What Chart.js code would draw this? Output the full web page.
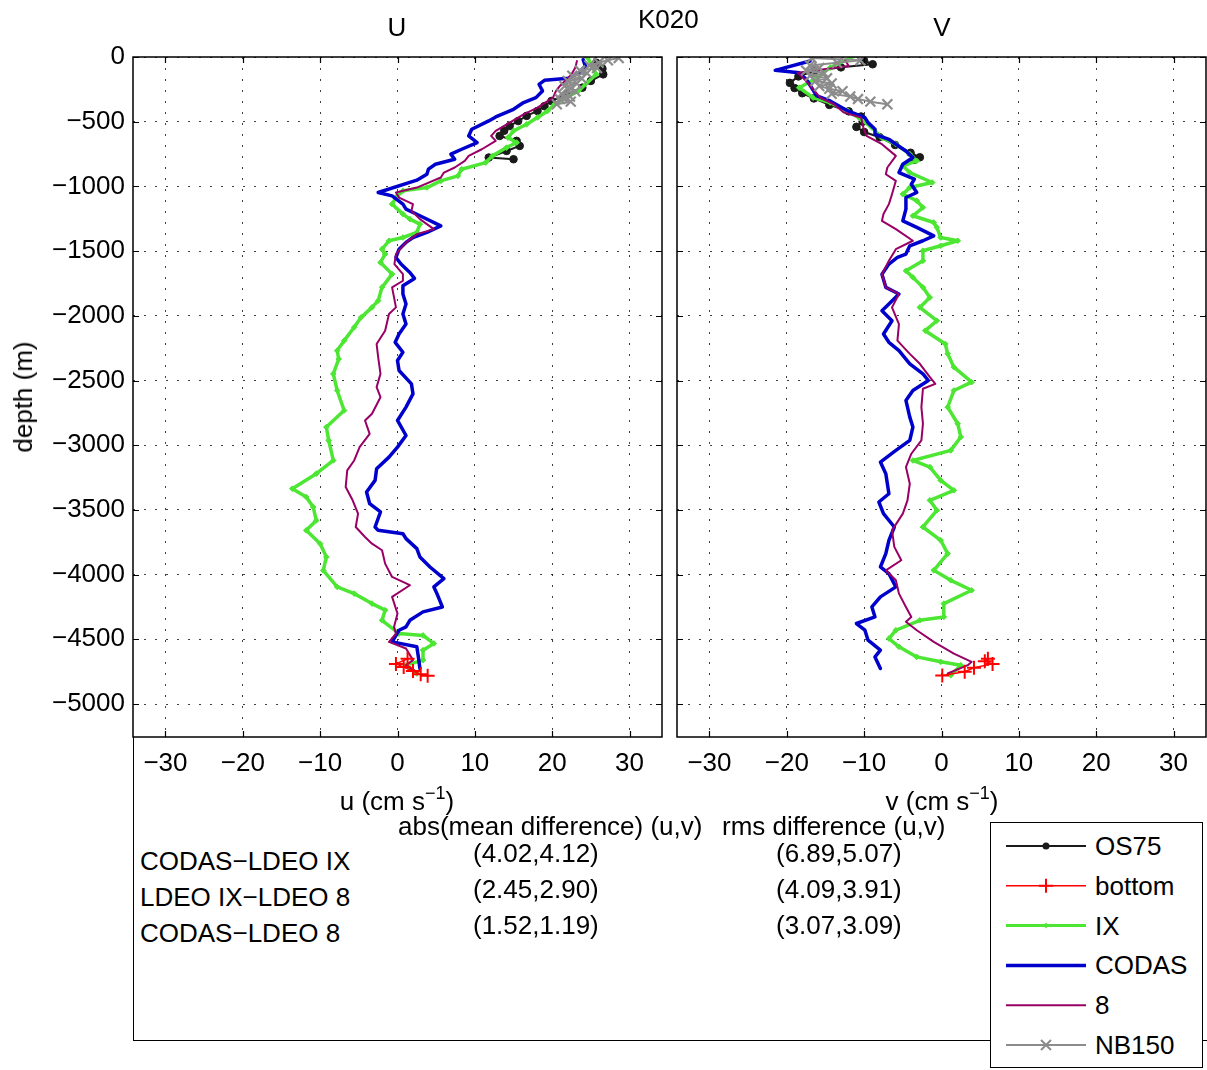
<!DOCTYPE html>
<html><head><meta charset="utf-8">
<script src="https://cdn.jsdelivr.net/npm/chart.js@4.4.0/dist/chart.umd.min.js"></script>
<style>
html,body{margin:0;padding:0;background:#fff;overflow:hidden;}
#wrap{position:relative;width:1207px;height:1070px;font-family:"Liberation Sans",Arial,sans-serif;color:#000;background:#fff;}
.t{position:absolute;font-size:26px;line-height:1;white-space:nowrap;transform:translateY(-50%);}
.c{transform:translate(-50%,-50%);}
canvas{position:absolute;}
sup{font-size:18px;position:relative;top:-11px;vertical-align:baseline;line-height:0;}
</style></head><body>
<div id="wrap">
  <div id="box" style="position:absolute;left:133px;top:737px;width:1074px;height:304px;border-left:1px solid #000;border-bottom:1px solid #000;box-sizing:border-box;"></div>
  <canvas id="cU" width="670" height="790" style="left:0;top:0;width:670px;height:790px"></canvas>
  <canvas id="cV" width="537" height="790" style="left:670px;top:0;width:537px;height:790px"></canvas>
  <div class="t c" style="left:397px;top:27px">U</div>
  <div class="t c" style="left:942px;top:27px">V</div>
  <div class="t" style="left:638px;top:19px">K020</div>
  <div class="t" style="left:23px;top:397px;transform:translate(-50%,-50%) rotate(-90deg)">depth (m)</div>
  <div class="t c" style="left:397px;top:801px">u (cm s<sup>−1</sup>)</div>
  <div class="t c" style="left:942px;top:801px">v (cm s<sup>−1</sup>)</div>
  <div id="stats"></div>
  <div id="legend" style="position:absolute;left:990px;top:822px;width:213px;height:246px;border:1px solid #000;box-sizing:border-box;background:#fff;"></div>
</div>
<script>
// ---------------- axes ----------------
const X_TICKS = [-30, -20, -10, 0, 10, 20, 30];
const Y_TICKS = [0, -500, -1000, -1500, -2000, -2500, -3000, -3500, -4000, -4500, -5000];
const X_MIN = -34.2, X_MAX = 34.2, Y_MIN = -5255, Y_MAX = 0;

// ---------------- text table ----------------
const STAT_HEADERS = ['abs(mean difference) (u,v)', 'rms difference (u,v)'];
const STAT_ROWS = ['CODAS\u2212LDEO IX', 'LDEO IX\u2212LDEO 8', 'CODAS\u2212LDEO 8'];
const STAT_MEAN = ['(4.02,4.12)', '(2.45,2.90)', '(1.52,1.19)'];
const STAT_RMS = ['(6.89,5.07)', '(4.09,3.91)', '(3.07,3.09)'];

// ---------------- U panel data (depth m, u cm/s) ----------------
const U_OS75_DEPTH = [44, 90, 134, 185, 237, 290, 340, 380, 417, 455, 495, 533, 570, 610, 648, 687, 726, 777, 790];
const U_OS75 = [25.7, 26.5, 26.6, 25.0, 23.9, 21.8, 19.9, 19.0, 18.1, 16.7, 15.6, 14.5, 13.8, 13.2, 15.4, 15.8, 14.1, 11.8, 15.0];

const U_NB150_DEPTH = [8, 25, 45, 65, 85, 105, 125, 145, 165, 185, 205, 225, 245, 265, 285, 305, 325, 345, 365];
const U_NB150 = [28.6, 27.2, 26.0, 24.8, 25.8, 23.6, 24.5, 22.6, 23.8, 22.0, 23.2, 21.6, 22.4, 23.0, 21.2, 22.3, 21.0, 22.4, 20.6];

const U_BOTTOM_DEPTH = [4650, 4690, 4715, 4745, 4770, 4782];
const U_BOTTOM = [1.3, -0.2, 0.8, 2.0, 3.0, 3.9];

const U_IX_DEPTH = [5, 134, 262, 365, 417, 468, 520, 571, 623, 661, 700, 764, 816, 867, 919, 957, 1009, 1034, 1086, 1137, 1214, 1253, 1292, 1356, 1395, 1420, 1485, 1523, 1588, 1678, 1780, 1883, 1935, 2012, 2089, 2192, 2269, 2334, 2449, 2577, 2732, 2860, 2963, 3118, 3220, 3336, 3400, 3478, 3581, 3658, 3761, 3864, 3967, 4095, 4147, 4224, 4275, 4353, 4456, 4470, 4533, 4584, 4661, 4700, 4764];
const U_IX = [24.6, 25.7, 23.4, 20.3, 19.4, 18.1, 16.7, 15.0, 14.3, 15.4, 14.1, 12.3, 11.4, 8.3, 7.8, 5.6, 3.8, 0.7, -0.2, -0.7, 0.7, 1.6, 2.9, 2.5, 0.7, -1.1, -2.0, -1.6, -2.2, -0.7, -2.0, -2.5, -3.3, -4.7, -5.6, -6.9, -7.8, -7.6, -8.3, -7.8, -6.9, -9.2, -8.9, -8.3, -10.5, -13.6, -11.8, -10.9, -10.5, -11.8, -10.0, -9.2, -9.6, -7.8, -5.6, -3.3, -1.6, -2.0, 0.2, 3.3, 4.7, 3.3, 3.3, 1.1, 2.5];

const U_CODAS_DEPTH = [20, 70, 120, 165, 180, 211, 262, 314, 352, 404, 463, 494, 558, 610, 661, 713, 751, 790, 829, 867, 906, 952, 1047, 1073, 1137, 1176, 1227, 1305, 1356, 1395, 1433, 1485, 1549, 1600, 1665, 1711, 1768, 1832, 1909, 1986, 2064, 2141, 2205, 2282, 2346, 2423, 2526, 2603, 2706, 2809, 2925, 3015, 3092, 3182, 3272, 3362, 3452, 3516, 3632, 3658, 3684, 3722, 3799, 3864, 3941, 4031, 4095, 4147, 4250, 4288, 4353, 4404, 4430, 4520, 4558, 4636, 4726];
const U_CODAS = [24.0, 24.3, 23.5, 22.1, 19.0, 18.3, 18.75, 17.9, 16.3, 15.0, 12.7, 11.8, 9.6, 9.2, 10.3, 8.3, 6.9, 7.4, 4.9, 4.0, 3.8, 2.5, -2.5, -0.7, 0.7, 1.1, 2.9, 5.6, 3.8, 2.0, 1.1, 0.2, -0.2, 0.45, 1.6, 2.2, 0.7, 0.7, 1.1, 0.7, 1.1, 0.2, -0.3, 0.7, 0.0, 0.2, 1.8, 2.0, 1.1, 0.0, 1.1, 0.0, -1.1, -2.7, -2.9, -4.0, -3.6, -2.2, -2.9, -2.5, 0.7, 1.1, 2.5, 2.9, 4.2, 6.0, 4.7, 5.1, 5.8, 3.3, 1.6, 1.1, 0.2, -0.7, 2.5, 2.7, 2.9];

const U_L8_DEPTH = [31, 82, 134, 224, 262, 314, 391, 443, 507, 571, 610, 648, 713, 764, 803, 854, 893, 931, 1009, 1047, 1086, 1137, 1189, 1253, 1330, 1369, 1433, 1523, 1600, 1678, 1729, 1780, 1935, 1986, 2115, 2218, 2320, 2449, 2551, 2629, 2757, 2809, 2912, 3015, 3118, 3195, 3323, 3426, 3529, 3632, 3709, 3761, 3812, 3915, 4018, 4082, 4172, 4301, 4404, 4456, 4520, 4571, 4661, 4700, 4751];
const U_L8 = [23.2, 23.0, 22.5, 21.0, 20.5, 20.1, 18.1, 16.3, 14.5, 12.7, 12.1, 12.7, 10.9, 9.2, 8.7, 7.4, 6.0, 5.6, 2.5, -0.2, 0.2, 2.0, 1.8, 2.9, 4.7, 2.5, 1.1, -0.2, -0.4, 0.7, 0.7, -0.7, -0.2, -1.1, -1.6, -2.7, -2.5, -2.2, -2.7, -2.2, -3.3, -4.2, -3.6, -4.9, -5.6, -6.5, -6.7, -5.8, -5.1, -5.4, -4.2, -3.3, -2.0, -1.6, -0.7, 1.6, -0.7, 0.0, -0.45, -0.2, -1.1, 1.1, 2.0, 1.1, 2.5];

// ---------------- V panel data (depth m, v cm/s) ----------------
const V_OS75_DEPTH = [30, 56, 80, 110, 150, 200, 240, 280, 320, 370, 420, 460, 500, 540, 580, 620, 680, 740, 775, 795];
const V_OS75 = [-10.0, -8.9, -13.0, -16.5, -18.5, -19.6, -19.0, -18.0, -16.5, -14.5, -12.0, -10.4, -10.2, -11.0, -10.0, -8.0, -6.0, -4.0, -2.8, -3.6];

const V_NB150_DEPTH = [8, 25, 45, 65, 85, 105, 125, 145, 165, 185, 205, 225, 245, 265, 285, 305, 325, 345, 365];
const V_NB150 = [-16.8, -10.5, -13.5, -17.0, -15.8, -17.5, -15.2, -17.0, -14.8, -16.3, -14.2, -15.8, -14.5, -12.8, -14.2, -11.8, -10.8, -9.2, -7.0];

const V_BOTTOM_DEPTH = [4650, 4670, 4690, 4720, 4750, 4780];
const V_BOTTOM = [6.0, 5.6, 6.6, 4.2, 3.0, 0.1];

const V_IX_DEPTH = [5, 82, 160, 237, 314, 352, 417, 481, 545, 623, 674, 751, 803, 841, 893, 970, 1009, 1060, 1111, 1163, 1227, 1279, 1317, 1395, 1420, 1459, 1497, 1575, 1652, 1703, 1780, 1858, 1935, 2038, 2115, 2218, 2294, 2397, 2513, 2577, 2706, 2834, 2937, 3040, 3118, 3169, 3272, 3349, 3426, 3503, 3632, 3735, 3838, 3967, 4044, 4121, 4224, 4327, 4353, 4430, 4494, 4558, 4636, 4674, 4700, 4777];
const V_IX = [-11.7, -14.4, -16.1, -18.4, -16.6, -14.4, -12.1, -10.4, -9.0, -7.7, -5.9, -4.1, -3.2, -5.0, -4.1, -1.2, -4.1, -5.0, -3.2, -2.4, -3.7, -1.0, -0.6, -0.1, 2.1, -0.1, -2.4, -2.4, -4.6, -3.7, -2.4, -1.5, -2.8, -0.6, -2.1, 0.5, 0.8, 1.6, 3.9, 1.6, 0.8, 2.1, 2.5, 1.2, -3.7, -1.5, -0.1, 1.6, -1.5, -0.6, -2.4, -0.1, 0.8, -1.0, 1.2, 3.9, 0.3, 0.3, -2.8, -5.9, -6.8, -5.5, -3.2, -0.1, 2.5, 1.2];

const V_CODAS_DEPTH = [31, 103, 121, 172, 301, 340, 417, 468, 507, 558, 597, 636, 674, 726, 777, 829, 893, 944, 983, 1047, 1086, 1176, 1266, 1317, 1382, 1420, 1459, 1523, 1549, 1600, 1678, 1780, 1832, 1909, 1961, 2038, 2141, 2205, 2269, 2371, 2449, 2500, 2577, 2654, 2783, 2860, 2963, 3040, 3130, 3220, 3375, 3439, 3529, 3632, 3735, 3838, 3941, 3992, 4095, 4172, 4250, 4327, 4378, 4430, 4507, 4584, 4636, 4726];
const V_CODAS = [-17.0, -21.5, -18.4, -17.5, -16.1, -14.4, -12.1, -9.9, -9.5, -8.6, -8.6, -6.8, -5.9, -4.6, -3.7, -5.0, -5.5, -3.5, -3.9, -3.2, -4.6, -4.6, -5.0, -3.2, -1.0, -2.4, -4.1, -4.6, -5.7, -6.8, -7.7, -7.2, -5.5, -6.8, -7.7, -6.4, -7.5, -6.8, -5.5, -4.1, -2.4, -1.7, -3.7, -4.6, -4.1, -3.7, -4.1, -5.9, -7.9, -7.2, -6.8, -8.1, -7.5, -6.1, -6.8, -7.2, -7.9, -6.8, -5.9, -7.9, -9.0, -8.6, -11.0, -9.9, -9.5, -7.9, -8.6, -7.9];

const V_L8_DEPTH = [20, 70, 121, 185, 314, 365, 430, 468, 545, 610, 674, 764, 854, 906, 957, 1060, 1137, 1214, 1266, 1330, 1420, 1485, 1575, 1678, 1780, 1832, 1935, 2064, 2192, 2294, 2371, 2474, 2526, 2564, 2706, 2834, 2963, 3066, 3169, 3298, 3426, 3529, 3658, 3786, 3889, 3967, 4044, 4147, 4250, 4327, 4365, 4430, 4520, 4610, 4674, 4700, 4764];
const V_L8 = [-12.5, -12.0, -18.6, -17.5, -15.7, -13.9, -12.6, -10.4, -10.1, -9.7, -7.7, -5.9, -7.0, -7.2, -5.9, -6.4, -6.8, -7.5, -7.7, -5.9, -3.7, -5.9, -6.8, -7.7, -7.2, -5.5, -6.4, -5.5, -5.7, -4.1, -2.8, -1.5, -0.8, -2.4, -2.6, -2.4, -2.6, -3.9, -4.6, -4.1, -4.4, -5.0, -6.4, -6.1, -5.2, -7.2, -5.9, -5.5, -4.6, -3.9, -4.6, -3.2, -1.0, 1.6, 3.9, 3.4, 0.8];

// ---------------- series ----------------
const LEGEND_ORDER = ['OS75', 'bottom', 'IX', 'CODAS', '8', 'NB150'];
const DRAW_ORDER = ['NB150', 'bottom', '8', 'CODAS', 'IX', 'OS75']; // index 0 drawn on top
const STYLE = {
  OS75:   {color: '#1a1a1a', width: 2,   marker: 'circle',   r: 3.8, pbw: 1},
  bottom: {color: '#ff0000', width: 1.5, marker: 'cross',    r: 7,   pbw: 2},
  IX:     {color: '#4ce633', width: 3.5, marker: 'rectRot',  r: 2.8, pbw: 1},
  CODAS:  {color: '#0000cc', width: 3.5, marker: null,       r: 0,   pbw: 0},
  '8':    {color: '#990066', width: 2,   marker: null,       r: 0,   pbw: 0},
  NB150:  {color: '#8c8c8c', width: 2,   marker: 'crossRot', r: 7,   pbw: 2.2}
};
const PANEL_U = {
  OS75: [U_OS75_DEPTH, U_OS75], bottom: [U_BOTTOM_DEPTH, U_BOTTOM], IX: [U_IX_DEPTH, U_IX],
  CODAS: [U_CODAS_DEPTH, U_CODAS], '8': [U_L8_DEPTH, U_L8], NB150: [U_NB150_DEPTH, U_NB150]
};
const PANEL_V = {
  OS75: [V_OS75_DEPTH, V_OS75], bottom: [V_BOTTOM_DEPTH, V_BOTTOM], IX: [V_IX_DEPTH, V_IX],
  CODAS: [V_CODAS_DEPTH, V_CODAS], '8': [V_L8_DEPTH, V_L8], NB150: [V_NB150_DEPTH, V_NB150]
};

const FONT = '"Liberation Sans", Arial, sans-serif';
const fmt = v => (v < 0 ? '\u2212' + Math.abs(v) : String(v));

const framePlugin = {
  id: 'frame',
  afterDatasetsDraw(chart) {
    const {ctx, chartArea: a, scales: {x, y}} = chart;
    ctx.save();
    ctx.strokeStyle = '#000';
    ctx.lineWidth = 1.5;
    ctx.strokeRect(a.left, a.top, a.right - a.left, a.bottom - a.top);
    ctx.lineWidth = 1.2;
    ctx.beginPath();
    x.ticks.forEach(t => {
      const px = Math.round(x.getPixelForValue(t.value)) + 0.5;
      ctx.moveTo(px, a.bottom); ctx.lineTo(px, a.bottom - 6);
      ctx.moveTo(px, a.top); ctx.lineTo(px, a.top + 6);
    });
    y.ticks.forEach(t => {
      const py = Math.round(y.getPixelForValue(t.value)) + 0.5;
      ctx.moveTo(a.left, py); ctx.lineTo(a.left + 6, py);
      ctx.moveTo(a.right, py); ctx.lineTo(a.right - 6, py);
    });
    ctx.stroke();
    ctx.restore();
  }
};

function makeChart(id, panel, leftW, padRight, showY) {
  const datasets = DRAW_ORDER.map(name => {
    const s = STYLE[name];
    const [dep, val] = panel[name];
    return {
      label: name,
      data: dep.map((d, i) => ({x: val[i], y: -d})),
      showLine: true,
      borderColor: s.color,
      backgroundColor: s.color,
      borderWidth: s.width,
      pointRadius: s.r,
      pointStyle: s.marker || 'circle',
      pointBorderWidth: s.pbw,
      pointBackgroundColor: s.color,
      pointBorderColor: s.color,
      fill: false,
      tension: 0,
      borderJoinStyle: 'round',
      borderCapStyle: 'round'
    };
  });
  const gridCfg = {display: true, drawTicks: false, color: 'rgba(0,0,0,0.75)', lineWidth: 1};
  const borderCfg = {display: false, dash: [2, 9]};
  return new Chart(document.getElementById(id), {
    type: 'scatter',
    data: {datasets},
    options: {
      responsive: false, animation: false, devicePixelRatio: 1, events: [],
      layout: {autoPadding: false, padding: {top: 57, right: padRight, bottom: 3, left: 0}},
      plugins: {legend: {display: false}, tooltip: {enabled: false}, title: {display: false}},
      scales: {
        x: {
          type: 'linear', position: 'bottom', min: X_MIN, max: X_MAX,
          afterBuildTicks: s => { s.ticks = X_TICKS.map(v => ({value: v})); },
          afterFit: s => { s.height = 50; s.paddingLeft = 0; s.paddingRight = 0; },
          ticks: {autoSkip: false, maxRotation: 0, padding: 11, color: '#000', font: {family: FONT, size: 26}, callback: fmt},
          grid: gridCfg, border: borderCfg
        },
        y: {
          type: 'linear', position: 'left', min: Y_MIN, max: Y_MAX,
          afterBuildTicks: s => { s.ticks = Y_TICKS.map(v => ({value: v})); },
          afterFit: s => { s.width = leftW; s.paddingTop = 0; s.paddingBottom = 0; },
          ticks: {display: showY, autoSkip: false, padding: 8, color: '#000', font: {family: FONT, size: 26}, callback: fmt},
          grid: gridCfg, border: borderCfg
        }
      }
    },
    plugins: [framePlugin]
  });
}

makeChart('cU', PANEL_U, 133, 8, true);
makeChart('cV', PANEL_V, 7, 1, false);

// ---------------- statistics text ----------------
(function () {
  const st = document.getElementById('stats');
  const add = (txt, left, top) => {
    const d = document.createElement('div');
    d.className = 't';
    d.style.left = left + 'px';
    d.style.top = top + 'px';
    d.textContent = txt;
    st.appendChild(d);
  };
  add(STAT_HEADERS[0], 398, 826);
  add(STAT_HEADERS[1], 722, 826);
  STAT_ROWS.forEach((r, i) => add(r, 140, 861 + 36 * i));
  STAT_MEAN.forEach((r, i) => add(r, 473, 853 + 36 * i));
  STAT_RMS.forEach((r, i) => add(r, 776, 853 + 36 * i));
})();

// ---------------- legend ----------------
(function () {
  const lg = document.getElementById('legend');
  const NS = 'http://www.w3.org/2000/svg';
  const svg = document.createElementNS(NS, 'svg');
  svg.setAttribute('width', '211'); svg.setAttribute('height', '244');
  svg.style.position = 'absolute'; svg.style.left = '0'; svg.style.top = '0';
  lg.appendChild(svg);
  LEGEND_ORDER.forEach((name, i) => {
    const s = STYLE[name];
    const cy = 23 + i * 39.8;
    const ln = document.createElementNS(NS, 'line');
    ln.setAttribute('x1', 15); ln.setAttribute('x2', 95);
    ln.setAttribute('y1', cy); ln.setAttribute('y2', cy);
    ln.setAttribute('stroke', s.color); ln.setAttribute('stroke-width', name === 'IX' ? 3 : s.width);
    svg.appendChild(ln);
    const mx = 55;
    if (s.marker === 'circle') {
      const c = document.createElementNS(NS, 'circle');
      c.setAttribute('cx', mx); c.setAttribute('cy', cy); c.setAttribute('r', 3.5);
      c.setAttribute('fill', s.color);
      svg.appendChild(c);
    } else if (s.marker === 'rectRot') {
      const p = document.createElementNS(NS, 'path');
      p.setAttribute('d', `M${mx} ${cy - 3} L${mx + 2.5} ${cy} L${mx} ${cy + 3} L${mx - 2.5} ${cy} Z`);
      p.setAttribute('fill', s.color);
      svg.appendChild(p);
    } else if (s.marker === 'cross') {
      const p = document.createElementNS(NS, 'path');
      p.setAttribute('d', `M${mx - 7} ${cy} H${mx + 7} M${mx} ${cy - 7} V${cy + 7}`);
      p.setAttribute('stroke', s.color); p.setAttribute('stroke-width', 2); p.setAttribute('fill', 'none');
      svg.appendChild(p);
    } else if (s.marker === 'crossRot') {
      const k = 5;
      const p = document.createElementNS(NS, 'path');
      p.setAttribute('d', `M${mx - k} ${cy - k} L${mx + k} ${cy + k} M${mx - k} ${cy + k} L${mx + k} ${cy - k}`);
      p.setAttribute('stroke', s.color); p.setAttribute('stroke-width', 2); p.setAttribute('fill', 'none');
      svg.appendChild(p);
    }
    const d = document.createElement('div');
    d.className = 't';
    d.style.left = '104px';
    d.style.top = cy + 'px';
    d.textContent = name;
    lg.appendChild(d);
  });
})();
</script>
</body></html>
